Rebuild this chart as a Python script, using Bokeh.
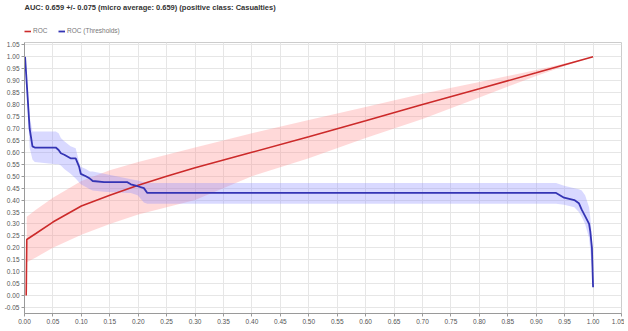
from bokeh.plotting import figure
from bokeh.layouts import column
from bokeh.models import Range1d, FixedTicker, PrintfTickFormatter, Legend, LegendItem
from bokeh.embed import file_html
from bokeh.resources import INLINE

title_text = "AUC: 0.659 +/- 0.075 (micro average: 0.659) (positive class: Casualties)"
series_names = ["ROC", "ROC (Thresholds)"]
series_colors = ["#cc2a2a", "#3434b4"]

# ROC curve (red) with std band
roc_x = [0.003, 0.004, 0.02, 0.05, 0.10, 0.15, 0.20, 0.25, 0.30, 0.40, 0.50, 0.60, 0.70, 0.80, 0.90, 0.95, 1.00]
roc_y = [0.0, 0.235, 0.26, 0.308, 0.375, 0.42, 0.462, 0.50, 0.535, 0.60, 0.665, 0.732, 0.80, 0.866, 0.933, 0.967, 1.0]
roc_band_x = [0.004, 0.02, 0.05, 0.10, 0.15, 0.20, 0.25, 0.30, 0.40, 0.50, 0.60, 0.70, 0.80, 0.90, 0.95, 1.00]
roc_lower = [0.14, 0.16, 0.20, 0.255, 0.30, 0.34, 0.37, 0.40, 0.50, 0.575, 0.66, 0.74, 0.83, 0.92, 0.962, 1.0]
roc_upper = [0.33, 0.36, 0.41, 0.48, 0.525, 0.56, 0.59, 0.62, 0.68, 0.735, 0.79, 0.845, 0.895, 0.945, 0.972, 1.0]

# ROC (Thresholds) curve (blue) with std band
thr_x = [0.001, 0.005, 0.009, 0.014, 0.018, 0.055, 0.06, 0.064, 0.07, 0.081, 0.09, 0.096, 0.099, 0.108,
         0.115, 0.12, 0.14, 0.181, 0.187, 0.199, 0.21, 0.216, 0.935, 0.949, 0.967, 0.975, 0.98, 0.986,
         0.993, 0.995, 0.998, 1.0]
thr_y = [1.0, 0.85, 0.70, 0.625, 0.62, 0.62, 0.61, 0.596, 0.59, 0.575, 0.575, 0.54, 0.51, 0.50,
         0.49, 0.48, 0.475, 0.475, 0.466, 0.458, 0.45, 0.43, 0.43, 0.41, 0.40, 0.387, 0.36, 0.333,
         0.30, 0.27, 0.20, 0.035]
thr_lower = [1.0, 0.82, 0.62, 0.57, 0.56, 0.55, 0.55, 0.545, 0.53, 0.51, 0.49, 0.475, 0.466, 0.455,
             0.445, 0.44, 0.435, 0.43, 0.43, 0.42, 0.39, 0.385, 0.385, 0.38, 0.37, 0.35, 0.33, 0.30,
             0.24, 0.19, 0.12, 0.035]
thr_upper = [1.0, 0.87, 0.75, 0.687, 0.687, 0.687, 0.68, 0.66, 0.646, 0.625, 0.617, 0.56, 0.54, 0.53,
             0.52, 0.52, 0.51, 0.49, 0.487, 0.482, 0.475, 0.472, 0.472, 0.46, 0.45, 0.445, 0.44, 0.42,
             0.37, 0.33, 0.25, 0.035]

x_ticks = [round(0.05 * i, 2) for i in range(0, 22)]
y_ticks = [round(-0.05 + 0.05 * i, 2) for i in range(0, 23)]

FONT = "Liberation Sans"

# ---- header: title + legend ----
head = figure(width=624, height=39, x_range=Range1d(0, 1), y_range=Range1d(0, 1),
              output_backend="svg", toolbar_location=None,
              x_axis_location=None, y_axis_location=None,
              min_border_left=0, min_border_right=0, min_border_top=10, min_border_bottom=0)
head.grid.visible = False
head.outline_line_color = None
head.title.text = title_text
head.title.text_font = FONT
head.title.text_font_size = "7.5px"
head.title.text_font_style = "bold"
head.title.text_color = "#333333"
head.title.align = "left"
head.title.standoff = 0

# placeholder renderers (outside the visible range) that only supply the legend swatches
leg_r0 = head.line(x=[5, 6], y=[5, 6], line_color=series_colors[0], line_width=1.6)
leg_r1 = head.line(x=[5, 6], y=[5, 6], line_color=series_colors[1], line_width=1.8)
legend = Legend(items=[LegendItem(label=series_names[0], renderers=[leg_r0]),
                       LegendItem(label=series_names[1], renderers=[leg_r1])],
                orientation="horizontal", location=(0, 5))
legend.label_text_font = FONT
legend.label_text_font_size = "6.5px"
legend.label_text_color = "#777777"
legend.glyph_width = 7
legend.glyph_height = 6
legend.label_standoff = 2
legend.spacing = 5
legend.padding = 2
legend.margin = 0
legend.border_line_color = None
legend.background_fill_alpha = 0
legend.label_height = 6
head.add_layout(legend, "center")

# ---- main plot ----
p = figure(frame_width=597, frame_height=271, x_range=Range1d(0, 1.05), y_range=Range1d(-0.075, 1.06),
           output_backend="svg", toolbar_location=None,
           min_border_left=24, min_border_right=3, min_border_bottom=0, min_border_top=3)

red_band = p.varea(x=roc_band_x, y1=roc_lower, y2=roc_upper, fill_color="#ff8a8a", fill_alpha=0.32)
blue_band = p.varea(x=thr_x, y1=thr_lower, y2=thr_upper, fill_color="#8a8aff", fill_alpha=0.32)
red_line = p.line(roc_x, roc_y, line_color=series_colors[0], line_width=1.6)
blue_line = p.line(thr_x, thr_y, line_color=series_colors[1], line_width=1.8)

for ax in (p.xaxis, p.yaxis):
    ax.axis_line_color = "#9a9a9a"
    ax.major_tick_line_color = "#9a9a9a"
    ax.minor_tick_line_color = None
    ax.major_tick_out = 3
    ax.major_tick_in = 0
    ax.major_label_text_font = FONT
    ax.major_label_text_font_size = "6.5px"
    ax.major_label_text_color = "#555555"
    ax.formatter = PrintfTickFormatter(format="%.2f")
    ax.major_label_standoff = 2
    ax.axis_label_standoff = 0

p.xaxis.ticker = FixedTicker(ticks=x_ticks)
p.yaxis.ticker = FixedTicker(ticks=y_ticks)
p.xgrid.ticker = FixedTicker(ticks=x_ticks)
p.ygrid.ticker = FixedTicker(ticks=y_ticks)
p.grid.grid_line_color = "#e6e6e6"
p.outline_line_color = "#cccccc"
p.background_fill_color = "white"

layout = column(head, p, spacing=0)
open("out.html", "w").write(file_html(layout, INLINE))
